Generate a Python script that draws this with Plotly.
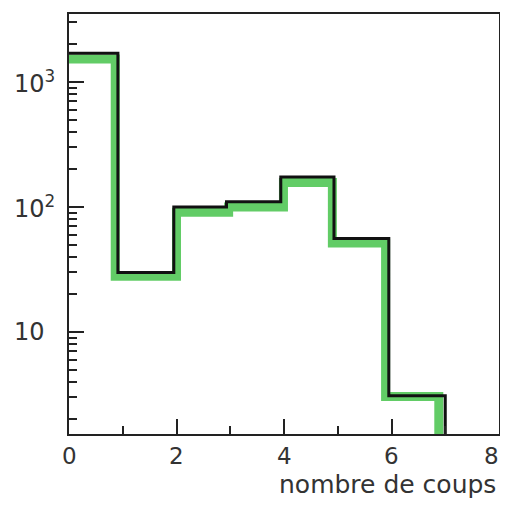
import math
import plotly.graph_objects as go

# --- data ---
black_edges = [0, 0.91, 1.95, 2.93, 3.94, 4.93, 5.95, 7.0]
black_counts = [1700, 30, 100, 110, 174, 56, 3.1]
green_edges = [0, 0.86, 2.0, 2.97, 3.99, 4.9, 5.89, 6.88]
green_counts = [1530, 28, 91, 100, 157, 51.5, 3.05]
baseline = 1.0

x_tick_vals = [0, 2, 4, 6, 8]
x_tick_text = ["0", "2", "4", "6", "8"]
x_minor_vals = [1, 3, 5, 7]
y_tick_vals = [10, 100, 1000]
y_tick_text = ["10", "10<sup>2</sup>", "10<sup>3</sup>"]
x_title = "nombre de coups"

y_min, y_max = 1.53, 3500
x_min, x_max = 0, 8


def step_points(edges, counts):
    xs = list(edges[:-1]) + [edges[-1]]
    ys = list(counts) + [baseline]
    return xs, ys


fig = go.Figure()
gx, gy = step_points(green_edges, green_counts)
fig.add_trace(go.Scatter(x=gx, y=gy, mode="lines", line=dict(shape="hv", color="rgba(70,195,75,0.85)", width=9),
                         hoverinfo="skip"))
bx, by = step_points(black_edges, black_counts)
fig.add_trace(go.Scatter(x=bx, y=by, mode="lines", line=dict(shape="hv", color="#111111", width=3),
                         hoverinfo="skip"))

minor_y = [m * 10 ** k for k in range(0, 4) for m in range(2, 10) if y_min <= m * 10 ** k <= y_max]

font = "DejaVu Sans"
fig.update_layout(
    width=492, height=491,
    margin=dict(l=61, r=1, t=6, b=65, autoexpand=False),
    paper_bgcolor="white", plot_bgcolor="white",
    showlegend=False,
    xaxis=dict(range=[x_min, x_max], tickmode="array", tickvals=x_tick_vals, showticklabels=False,
               automargin=False,
               ticks="inside", ticklen=15, tickwidth=2, tickcolor="#222",
               minor=dict(tickmode="array", tickvals=x_minor_vals, ticks="inside", ticklen=8,
                          tickwidth=2, tickcolor="#222", showgrid=False),
               showline=True, mirror=True, linecolor="#222", linewidth=2,
               showgrid=False, zeroline=False),
    yaxis=dict(type="log", range=[math.log10(y_min), math.log10(y_max)],
               automargin=False,
               tickmode="array", tickvals=y_tick_vals, showticklabels=False,
               ticks="inside", ticklen=15, tickwidth=2, tickcolor="#222",
               minor=dict(tickmode="array", tickvals=minor_y, ticks="inside", ticklen=8,
                          tickwidth=2, tickcolor="#222", showgrid=False),
               showline=True, mirror=True, linecolor="#222", linewidth=2,
               showgrid=False, zeroline=False),
)

for v, t in zip(x_tick_vals, x_tick_text):
    at_edge = v >= x_max
    fig.add_annotation(x=v, xref="x", xanchor="right" if at_edge else "center",
                       xshift=2 if at_edge else 0,
                       y=0, yref="paper", yshift=-22, yanchor="middle",
                       text=t, showarrow=False,
                       font=dict(family=font, size=23, color="#333"))

for v, t in zip(y_tick_vals, y_tick_text):
    fig.add_annotation(x=0, xref="paper", xshift=-57, xanchor="left",
                       y=math.log10(v), yref="y", yanchor="middle",
                       text=t, showarrow=False,
                       font=dict(family=font, size=24, color="#333"))

fig.add_annotation(x=1, xref="paper", xanchor="right", xshift=-1,
                   y=0, yref="paper", yshift=-50, yanchor="middle",
                   text=x_title, showarrow=False,
                   font=dict(family=font, size=25, color="#333"))

fig.write_html("out.html")
